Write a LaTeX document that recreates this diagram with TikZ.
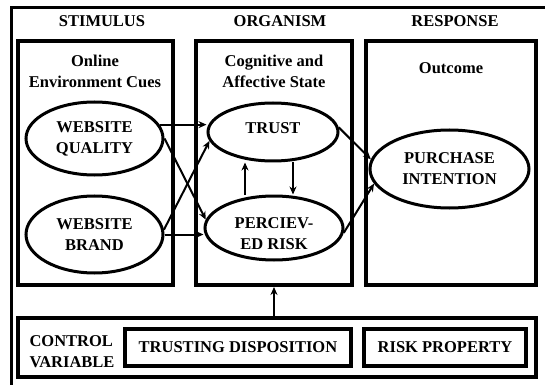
\documentclass[tikz,border=0pt]{standalone}
\usepackage{fontspec}
\setmainfont{Liberation Serif}
\usetikzlibrary{shapes.geometric,arrows.meta}
\begin{document}
\begin{tikzpicture}[x=1pt,y=-1pt,
  every node/.style={font=\bfseries\fontsize{16.5}{21}\selectfont, inner sep=0pt, align=center},
  box/.style={draw, line width=4pt, rectangle, minimum width=#1},
  oval/.style={draw, line width=3pt, ellipse},
  arr/.style={line width=2pt, -{Stealth[length=8pt,width=7pt]}},
  frame/.style={line width=3pt}
]
\useasboundingbox[fill=white] (0,0) rectangle (549,385);
% outer frame (cut off at right and bottom)
\coordinate (f1) at (11,390);
\coordinate (f2) at (11,8);
\coordinate (f3) at (545,8);
\draw[frame] (f1) -- (f2) -- (f3);
% headers
\node (hs) at (102,21) {STIMULUS};
\node (ho) at (280,21) {ORGANISM};
\node (hr) at (455,21) {RESPONSE};
% column boxes
\node[box=155pt, minimum height=244pt] (stim) at (95.5,163) {};
\node[box=156pt, minimum height=244pt] (org) at (274,163) {};
\node[box=170pt, minimum height=244pt] (resp) at (451,163) {};
% sub headings
\node (sh1) at (95,71) {Online\\Environment Cues};
\node (sh2) at (274,71) {Cognitive and\\Affective State};
\node (sh3) at (451,68) {Outcome};
% ellipses
\node[oval, minimum width=137pt, minimum height=73pt] (wq) at (94.5,138.5) {WEBSITE\\QUALITY};
\node[oval, minimum width=137pt, minimum height=77pt] (wb) at (94.5,234.5) {WEBSITE\\BRAND};
\node[oval, minimum width=130pt, minimum height=58pt] (trust) at (273,132) {};
\node (trustt) at (273,128) {TRUST};
\node[oval, minimum width=138pt, minimum height=64pt] (risk) at (274,228) {};
\node (riskt) at (274,234) {PERCIEV-\\ED RISK};
\node[oval, minimum width=159pt, minimum height=78pt] (pi) at (449.5,169) {PURCHASE\\INTENTION};
% control variable
\node[box=518pt, minimum height=59pt] (ctrl) at (277,347.5) {};
\node[align=left] (ctrlt) at (72,352) {CONTROL\\VARIABLE};
\node[box=226pt, minimum height=37pt] (td) at (238,347.5) {TRUSTING DISPOSITION};
\node[box=162pt, minimum height=37pt] (rp) at (445,347.5) {RISK PROPERTY};
% connectors
\draw[arr] (wq.12) -- (wq.12 -| trust.west);
\draw[arr] (wq.east) -- (risk.173);
\draw[arr] (wb.4) -- (trust.188);
\draw[arr] (wb.east) -- (wb.east -| risk.west);
\draw[arr] ([xshift=20pt]trust.south) -- ([xshift=20pt]trust.south |- risk.north);
\draw[arr] ([xshift=-29pt]risk.north) -- ([xshift=-29pt]risk.north |- trust.south);
\draw[arr] (trust.4) -- (pi.173);
\draw[arr] (risk.-4) -- (pi.191);
\draw[arr] (ctrl.north -| org.south) -- (org.south);
\end{tikzpicture}
\end{document}
